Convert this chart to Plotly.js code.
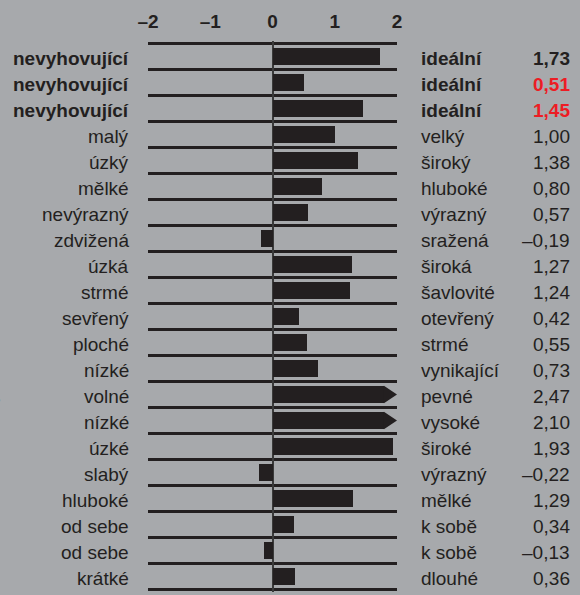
<!DOCTYPE html>
<html>
<head>
<meta charset="utf-8">
<script src="https://cdn.plot.ly/plotly-3.0.1.min.js"></script>
<style>
html,body{margin:0;padding:0;background:#a7a9ac;}
#chart{width:580px;height:595px;}
</style>
</head>
<body>
<div id="chart"></div>
<script>
// ---- data ----
const leftLabels = ["nevyhovující","nevyhovující","nevyhovující","malý","úzký","mělké","nevýrazný","zdvižená","úzká","strmé","sevřený","ploché","nízké","volné","nízké","úzké","slabý","hluboké","od sebe","od sebe","krátké"];
const rightLabels = ["ideální","ideální","ideální","velký","široký","hluboké","výrazný","sražená","široká","šavlovité","otevřený","strmé","vynikající","pevné","vysoké","široké","výrazný","mělké","k sobě","k sobě","dlouhé"];
const values = [1.73,0.51,1.45,1.00,1.38,0.80,0.57,-0.19,1.27,1.24,0.42,0.55,0.73,2.47,2.10,1.93,-0.22,1.29,0.34,-0.13,0.36];
const xTickVals = [-2,-1,0,1,2];
const xTickText = ["–2","–1","0","1","2"];

// ---- style ----
const BG = "#a7a9ac", INK = "#231f20", RED = "#ed1c24";
const FONT = "Liberation Sans, Arial, sans-serif";
const FS = 19;
const boldCount = 3;
const redRows = [1,2];
const AXMAX = 2, CAP = 1.79, BARW = 0.68;
const TEXT_SHIFT = -2;

const rows = values.map((_, i) => i);
const fmt = v => v.toFixed(2).replace('.', ',').replace('-', '–');

const barTrace = {
  type: 'bar', orientation: 'h',
  x: values.map(v => v > AXMAX ? CAP : v),
  y: rows, width: BARW,
  marker: {color: INK, line: {width: 0}},
  hoverinfo: 'skip', showlegend: false
};

// arrow heads for values beyond the axis
const ax = [], ay = [];
values.forEach((v, i) => {
  if (v > AXMAX) {
    ax.push(CAP, AXMAX, CAP, CAP, null);
    ay.push(i - BARW/2, i, i + BARW/2, i - BARW/2, null);
  }
});
const arrowTrace = {
  type: 'scatter', mode: 'lines', x: ax, y: ay,
  fill: 'toself', fillcolor: INK, line: {width: 0, color: INK},
  hoverinfo: 'skip', showlegend: false, connectgaps: false
};

const L = 148, R = 397, W = 580;
const plotW = R - L;
const annotations = [];
rows.forEach(i => {
  const bold = i < boldCount;
  const b = t => bold ? '<b>' + t + '</b>' : t;
  annotations.push({
    xref: 'paper', yref: 'y', x: (131 - L) / plotW, y: i, yshift: TEXT_SHIFT,
    xanchor: 'right', yanchor: 'middle', showarrow: false,
    text: b(leftLabels[i]),
    font: {family: FONT, size: FS, color: INK}
  });
  annotations.push({
    xref: 'paper', yref: 'y', x: (419 - L) / plotW, y: i, yshift: TEXT_SHIFT,
    xanchor: 'left', yanchor: 'middle', showarrow: false,
    text: b(rightLabels[i]),
    font: {family: FONT, size: FS, color: INK}
  });
  annotations.push({
    xref: 'paper', yref: 'y', x: (572 - L) / plotW, y: i, yshift: TEXT_SHIFT,
    xanchor: 'right', yanchor: 'middle', showarrow: false,
    text: b(fmt(values[i])),
    font: {family: FONT, size: FS, color: redRows.includes(i) ? RED : INK}
  });
});

const layout = {
  width: 580, height: 595,
  paper_bgcolor: BG, plot_bgcolor: BG,
  margin: {l: L, r: W - R, t: 41, b: 3, pad: 0},
  font: {family: FONT, color: INK},
  bargap: 0,
  xaxis: {
    range: [-AXMAX, AXMAX], side: 'top', fixedrange: true,
    tickvals: xTickVals, ticktext: xTickText, ticks: '',
    ticklabelstandoff: 8,
    tickfont: {family: FONT, size: FS, color: INK, weight: 'bold'},
    showgrid: false, showline: false,
    zeroline: true, zerolinecolor: '#3a3a3a', zerolinewidth: 2
  },
  yaxis: {
    range: [20.6, -0.6], fixedrange: true,
    showticklabels: false, ticks: '',
    showgrid: false, zeroline: false, showline: false,
    minor: {tick0: 0.5, dtick: 1, showgrid: true, gridcolor: INK, gridwidth: 2.5, ticks: ''}
  },
  annotations: annotations.concat([{
    xref: 'paper', yref: 'y', x: (3 - L) / plotW, y: 13.1, yshift: TEXT_SHIFT,
    xanchor: 'right', yanchor: 'middle', showarrow: false,
    text: 'e', font: {family: FONT, size: FS, color: INK}
  }]),
  showlegend: false
};

Plotly.newPlot('chart', [barTrace, arrowTrace], layout, {displayModeBar: false, staticPlot: true});
</script>
</body>
</html>
